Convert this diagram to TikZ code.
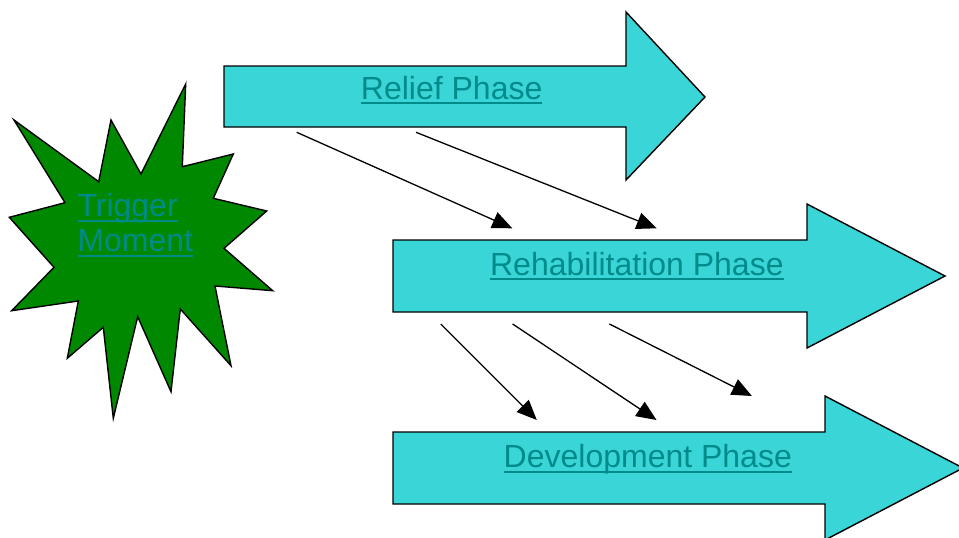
\documentclass[tikz,border=0pt]{standalone}
\usepackage{fontspec}
\setmainfont{Liberation Sans}
\usetikzlibrary{arrows.meta}
\definecolor{phasefill}{RGB}{58,213,214}
\definecolor{linktext}{RGB}{0,139,139}
\definecolor{stargreen}{RGB}{0,137,0}
\newsavebox\linkbox
\newcommand\linkul[1]{\sbox\linkbox{#1}\rlap{\rule[-5pt]{\wd\linkbox}{2pt}}\usebox\linkbox}
\tikzset{
  phase/.style={fill=phasefill,draw=black,line width=1.4pt,line join=miter},
  starshape/.style={fill=stargreen,draw=black,line width=1.4pt,line join=miter},
  linklabel/.style={text=linktext,font=\fontsize{32}{35}\selectfont,inner sep=0pt},
  conn/.style={line width=1.3pt,-{Triangle[length=20pt,width=17pt]}}
}
\begin{document}
\begin{tikzpicture}[x=1pt,y=-1pt]
\useasboundingbox (0,0) rectangle (959,538);
% Relief arrow
\draw[phase] (224,66) -- (626,66) -- (626,12) -- (705,97) -- (626,180) -- (626,127) -- (224,127) -- cycle;
% Rehabilitation arrow
\draw[phase] (393,240) -- (807,240) -- (807,204) -- (945,276) -- (807,348) -- (807,312) -- (393,312) -- cycle;
% Development arrow
\begin{scope}
\clip (0,0) rectangle (959,538);
\draw[phase] (393,432) -- (825,432) -- (825,396) -- (963,468) -- (825,540) -- (825,504) -- (393,504) -- cycle;
\end{scope}
% Star
\draw[starshape] (185.7,84) -- (182.3,166.7) -- (233.3,154) -- (213.3,198.3) -- (266.7,211) -- (224,248.3)
  -- (272.7,290.7) -- (215,286) -- (231,365.7) -- (180.3,309) -- (171,391.7) -- (137.7,316.7)
  -- (113.3,418.3) -- (103.3,327.3) -- (67.3,358.3) -- (78.3,301) -- (11.7,310.7) -- (54,267.3)
  -- (9.3,217.3) -- (65,202.7) -- (14,120) -- (98.7,181.7) -- (111,120) -- (141,174) -- cycle;
% Labels
\node[linklabel,anchor=base] (relief) at (451.7,99.3) {\linkul{Relief Phase}};
\node[linklabel,anchor=base] (rehab) at (636.9,275) {\linkul{Rehabilitation Phase}};
\node[linklabel,anchor=base] (dev) at (647.8,467.5) {\linkul{Development Phase}};
\node[linklabel,anchor=base west] (trigger) at (77.3,216.7) {\linkul{Trigger}};
\node[linklabel,anchor=base west] (moment) at (77.3,251.7) {\linkul{Moment}};
% Connector end points
\coordinate (c1s) at (296.7,132.3);
\coordinate (c1e) at (512.3,228.3);
\coordinate (c2s) at (416,132.3);
\coordinate (c2e) at (656.7,228.3);
\coordinate (c3s) at (440.8,324);
\coordinate (c3e) at (536.8,420);
\coordinate (c4s) at (512.6,324);
\coordinate (c4e) at (656.5,420);
\coordinate (c5s) at (609.4,324);
\coordinate (c5e) at (751.9,396);
\draw[conn] (c1s) -- (c1e);
\draw[conn] (c2s) -- (c2e);
\draw[conn] (c3s) -- (c3e);
\draw[conn] (c4s) -- (c4e);
\draw[conn] (c5s) -- (c5e);
\end{tikzpicture}
\end{document}
